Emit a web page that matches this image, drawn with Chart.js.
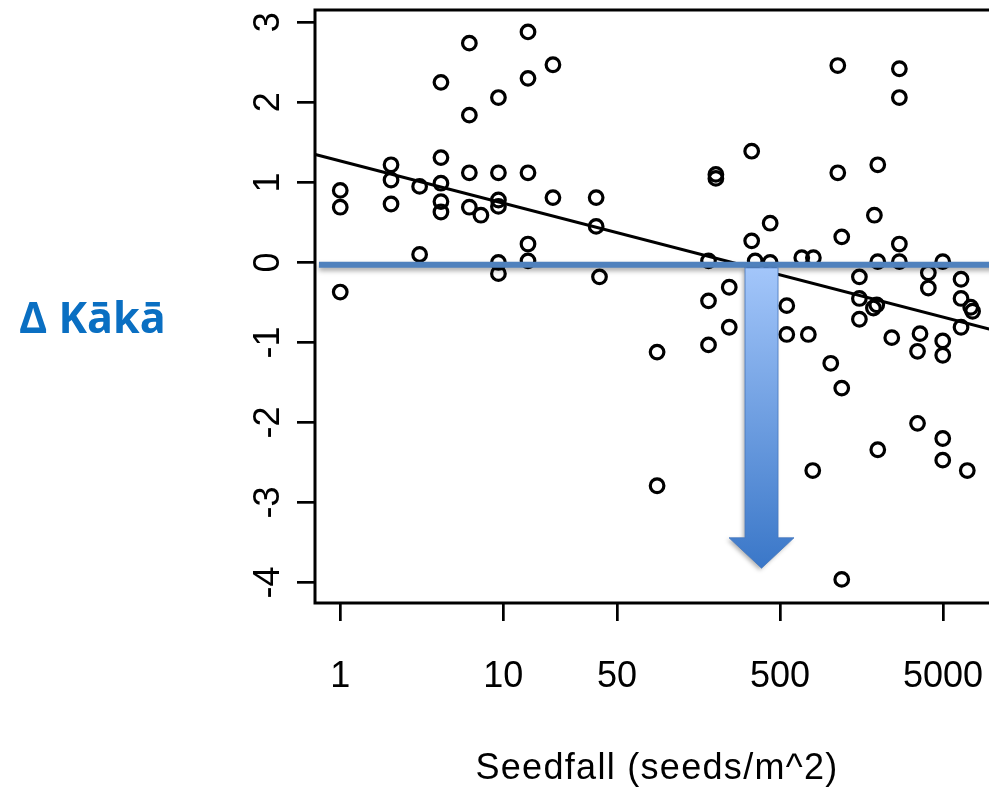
<!DOCTYPE html>
<html>
<head>
<meta charset="utf-8">
<script src="https://cdn.jsdelivr.net/npm/chart.js@4.4.1/dist/chart.umd.min.js"></script>
<style>
  html, body { margin: 0; padding: 0; background: #fff; overflow: hidden; }
  #wrap { width: 1020px; height: 791px; }
</style>
</head>
<body>
<div id="wrap"><canvas id="seedfallChart" width="1020" height="791"></canvas></div>
<script>
// seedfall per site-year (seeds/m^2) and the change in kaka counts
const seedfall = [
  1, 1, 1, 2.05, 2.05, 2.05, 3.07, 3.07,
  4.15, 4.15, 4.15, 4.15, 4.15, 6.2, 6.2, 6.2, 6.2, 7.3,
  9.35, 9.35, 9.35, 9.35, 9.35, 9.35, 14.2, 14.2, 14.2, 14.2, 14.2,
  20.2, 20.2, 37.2, 37.2, 39, 88, 88,
  182, 182, 182, 202, 202, 244, 244, 335, 335, 352, 435, 435,
  550, 550, 680, 801, 746, 794, 1024, 1131, 1131, 1196, 1196, 1196,
  1535, 1535, 1535, 1871, 1962, 1897, 1990, 1990, 1990, 2425,
  2700, 2700, 2700, 2700, 3490, 3490, 3615, 4066, 4066,
  4984, 4984, 4984, 4984, 4984, 6455, 6455, 6455, 7050, 7400, 7600
];
const deltaKaka = [
  0.90, 0.69, -0.37, 1.22, 1.03, 0.73, 0.95, 0.10,
  2.25, 1.31, 0.99, 0.76, 0.63, 2.74, 1.84, 1.12, 0.69, 0.59,
  2.06, 1.12, 0.78, 0.70, 0.00, -0.14, 2.88, 2.30, 1.12, 0.23, 0.02,
  2.47, 0.81, 0.81, 0.45, -0.18, -1.12, -2.79,
  0.02, -0.48, -1.03, 1.10, 1.05, -0.31, -0.81, 1.39, 0.27, 0.02, 0.49, 0.00,
  -0.54, -0.90, 0.06, 0.06, -0.90, -2.60, -1.26, 2.46, 1.12, 0.32, -1.57, -3.96,
  -0.18, -0.45, -0.71, -0.57, -0.53, 0.59, 1.22, 0.01, -2.34, -0.94,
  2.42, 2.06, 0.23, 0.01, -2.01, -1.11, -0.89, -0.13, -0.32,
  0.01, -0.98, -1.16, -2.20, -2.47, -0.21, -0.45, -0.81, -2.60, -0.56, -0.61
];
const xTicks = [1, 10, 50, 500, 5000];
const yTicks = [-4, -3, -2, -1, 0, 1, 2, 3];

// fitted line: deltaKaka = fitIntercept + fitSlope * log10(seedfall)
const fitIntercept = 1.268;
const fitSlope = -0.527;

// axis limits
const xMin = 0.703, xMax = 10430;
const yMin = -4.255, yMax = 3.154;

// blue marker line and arrow
const markLevel = -0.03;
const markStart = 0.74;
const arrowAt = 385;
const arrowHeadTop = -3.44;
const arrowTip = -3.82;

const points = seedfall.map((s, i) => ({ x: s, y: deltaKaka[i] }));
const fitLine = [xMin, xMax].map(s => ({ x: s, y: fitIntercept + fitSlope * Math.log10(s) }));

const FONT = 'Liberation Sans, Arial, sans-serif';

const overlay = {
  id: 'overlay',
  afterDatasetsDraw(chart) {
    const { ctx, chartArea: a, scales: { x, y } } = chart;
    ctx.save();
    // box round the plot
    ctx.strokeStyle = '#000';
    ctx.lineWidth = 3;
    ctx.strokeRect(a.left, a.top, a.right - a.left, a.bottom - a.top);

    // horizontal blue line
    const ly = y.getPixelForValue(markLevel);
    ctx.shadowColor = 'rgba(0,0,0,0.35)';
    ctx.shadowBlur = 5;
    ctx.shadowOffsetY = 3;
    ctx.strokeStyle = '#4f81bd';
    ctx.lineWidth = 6;
    ctx.beginPath();
    ctx.moveTo(x.getPixelForValue(markStart), ly);
    ctx.lineTo(chart.width, ly);
    ctx.stroke();

    // down arrow
    const ax = x.getPixelForValue(arrowAt);
    const top = ly + 3;
    const headY = y.getPixelForValue(arrowHeadTop);
    const tipY = y.getPixelForValue(arrowTip);
    const sw = 16.5, hw = 32.5;
    const g = ctx.createLinearGradient(0, top, 0, tipY);
    g.addColorStop(0, '#a3c6fa');
    g.addColorStop(1, '#3a77c8');
    ctx.shadowColor = 'rgba(0,0,0,0.3)';
    ctx.shadowBlur = 4;
    ctx.shadowOffsetX = -2;
    ctx.shadowOffsetY = 2;
    ctx.fillStyle = g;
    ctx.beginPath();
    ctx.moveTo(ax - sw, top);
    ctx.lineTo(ax + sw, top);
    ctx.lineTo(ax + sw, headY);
    ctx.lineTo(ax + hw, headY);
    ctx.lineTo(ax, tipY);
    ctx.lineTo(ax - hw, headY);
    ctx.lineTo(ax - sw, headY);
    ctx.closePath();
    ctx.fill();
    ctx.shadowColor = 'transparent';
    ctx.strokeStyle = 'rgba(70,120,190,0.8)';
    ctx.lineWidth = 1;
    ctx.stroke();
    ctx.restore();
  },
  afterDraw(chart) {
    const { ctx, chartArea: a, scales: { y } } = chart;
    ctx.save();
    ctx.fillStyle = '#000';
    // y tick labels, rotated like base R
    ctx.font = '36px ' + FONT;
    ctx.textAlign = 'center';
    ctx.textBaseline = 'middle';
    y.ticks.forEach(t => {
      ctx.save();
      ctx.translate(a.left - 46, y.getPixelForValue(t.value));
      ctx.rotate(-Math.PI / 2);
      ctx.fillText(String(t.value), 0, 0);
      ctx.restore();
    });
    // x axis title
    ctx.letterSpacing = '1.3px';
    ctx.textBaseline = 'alphabetic';
    ctx.fillText('Seedfall (seeds/m^2)', 657, 779);
    ctx.letterSpacing = '0px';
    // y axis title
    ctx.fillStyle = '#0a6fc2';
    ctx.font = 'bold 43px "Open Sans", sans-serif';
    ctx.textAlign = 'left';
    ctx.fillText('Δ Kākā', 19, 333);
    ctx.restore();
  }
};

new Chart(document.getElementById('seedfallChart'), {
  type: 'scatter',
  data: {
    datasets: [{
      data: points,
      pointStyle: 'circle',
      pointRadius: 6.8,
      pointHoverRadius: 6.8,
      pointBorderColor: '#000',
      pointBackgroundColor: 'rgba(0,0,0,0)',
      pointBorderWidth: 3.2,
      order: 1
    }, {
      type: 'line',
      data: fitLine,
      borderColor: '#000',
      borderWidth: 3,
      pointRadius: 0,
      fill: false,
      order: 2
    }]
  },
  options: {
    responsive: false,
    animation: false,
    events: [],
    layout: { padding: { top: 8, right: 25, bottom: 0, left: 0 } },
    plugins: { legend: { display: false }, tooltip: { enabled: false } },
    scales: {
      x: {
        type: 'logarithmic',
        min: xMin,
        max: xMax,
        afterBuildTicks: s => { s.ticks = xTicks.map(v => ({ value: v })); },
        afterFit: s => { s.height = 188; },
        border: { display: false },
        grid: { drawOnChartArea: false, drawTicks: true, tickLength: 18, color: '#000', lineWidth: 2.7 },
        ticks: {
          color: '#000',
          font: { family: FONT, size: 36 },
          padding: 34,
          maxRotation: 0,
          autoSkip: false,
          callback: v => String(v)
        }
      },
      y: {
        min: yMin,
        max: yMax,
        afterBuildTicks: s => { s.ticks = yTicks.map(v => ({ value: v })); },
        afterFit: s => { s.width = 315; },
        border: { display: false },
        grid: { drawOnChartArea: false, drawTicks: true, tickLength: 18, color: '#000', lineWidth: 2.7 },
        ticks: { display: false }
      }
    }
  },
  plugins: [overlay]
});
</script>
</body>
</html>
